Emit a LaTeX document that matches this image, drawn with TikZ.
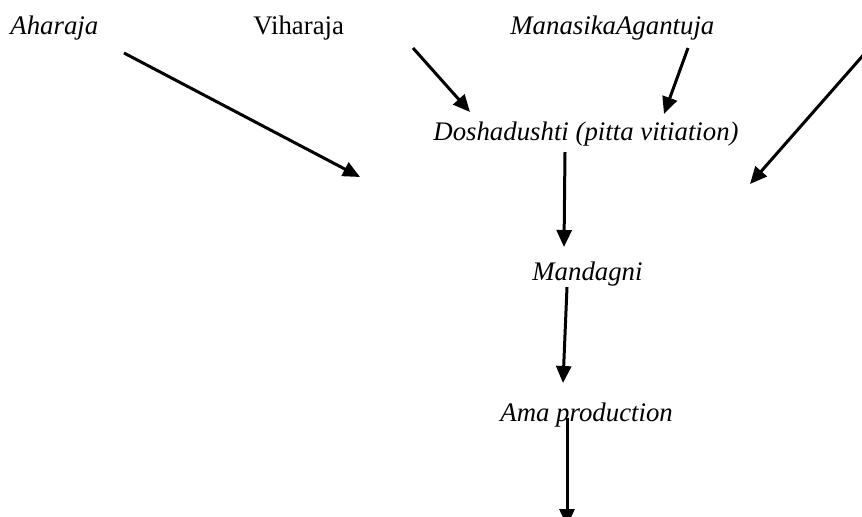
\documentclass[tikz,border=0pt]{standalone}
\usepackage{fontspec}
\setmainfont{Liberation Serif}
\usetikzlibrary{arrows.meta}

\begin{document}
\begin{tikzpicture}[x=0.5pt,y=-0.5pt,>={Triangle[length=8.5pt,width=7.5pt]},flow/.style={->, line width=1.5pt},term/.style={font=\fontsize{13.4}{15}\selectfont\itshape, inner sep=0pt, anchor=base west}]
\useasboundingbox (0,0) rectangle (862,516);
\clip (0,0) rectangle (862,516);
\node[term] (ahara) at (10,34) {Aharaja};
\node[term, font=\fontsize{13.4}{15}\selectfont\upshape] (vihara) at (253,34) {Viharaja};
\node[term] (manas) at (510,34) {ManasikaAgantuja};
\node[term] (dosha) at (433,140) {Doshadushti (pitta vitiation)};
\node[term] (manda) at (532,280) {Mandagni};
\node[term] (ama) at (500,421) {Ama production};
\coordinate (aharaS) at (124,53); \coordinate (aharaE) at (360,177);
\coordinate (viharaS) at (413,48); \coordinate (viharaE) at (470,112);
\coordinate (manasS) at (688,48); \coordinate (manasE) at (664,114);
\coordinate (sideS) at (866,52); \coordinate (sideE) at (750,184);
\coordinate (doshaS) at (565,152); \coordinate (mandaE) at (564,247);
\coordinate (mandaS) at (567,287); \coordinate (amaE) at (563,383);
\coordinate (amaS) at (567,418); \coordinate (outE) at (567,526);
\draw[flow] (aharaS) -- (aharaE);
\draw[flow] (viharaS) -- (viharaE);
\draw[flow] (manasS) -- (manasE);
\draw[flow] (sideS) -- (sideE);
\draw[flow] (doshaS) -- (mandaE);
\draw[flow] (mandaS) -- (amaE);
\draw[flow] (amaS) -- (outE);
\end{tikzpicture}
\end{document}
